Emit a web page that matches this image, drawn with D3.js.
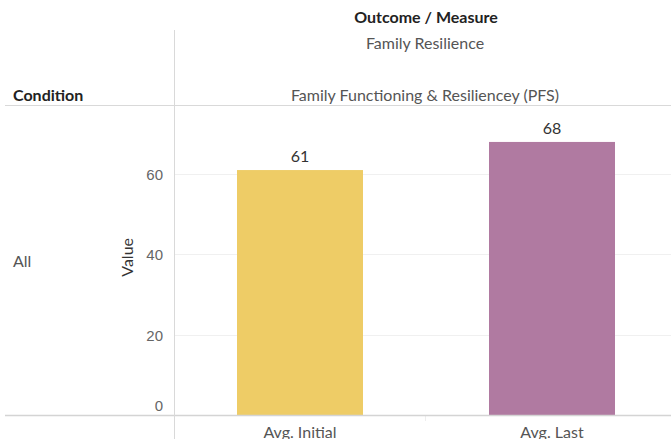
<!DOCTYPE html>
<html>
<head>
<meta charset="utf-8">
<title>Family Resilience</title>
<style>
body { margin: 0; background: #fff; }
svg { display: block; }
.hdr { font-family: Lato, "Open Sans", sans-serif; fill: #555; font-size: 16px; }
.hdr-bold { font-family: Lato, "Open Sans", sans-serif; fill: #222; font-size: 16px; font-weight: 700; }
.tick-lbl { font-family: "Liberation Sans", Arial, sans-serif; font-size: 15px; fill: #666; }
.val { font-family: Lato, "Open Sans", sans-serif; font-size: 16px; fill: #333; }
</style>
</head>
<body>
<div id="vis"></div>
<script src="https://cdn.jsdelivr.net/npm/d3@7"></script>
<script>
// data
var measures = ["Avg. Initial", "Avg. Last"];
var values = [61, 68];
var colors = ["#eecc66", "#b07aa1"];
var yTicks = [0, 20, 40, 60];

var width = 671, height = 439;
var plotLeft = 174, plotRight = 678, plotTop = 105, baseline = 415;

var svg = d3.select("#vis").append("svg")
    .attr("width", width)
    .attr("height", height);

var x = d3.scaleBand()
    .domain(measures)
    .range([plotLeft, plotRight])
    .paddingInner(0.5)
    .paddingOuter(0.25);

var y = d3.scaleLinear()
    .domain([0, 77.2])
    .range([baseline, plotTop]);

// gridlines
svg.selectAll(".grid")
    .data(yTicks.filter(function(d) { return d > 0; }))
    .enter().append("line")
    .attr("x1", plotLeft).attr("x2", width)
    .attr("y1", function(d) { return Math.round(y(d)) + 0.5; })
    .attr("y2", function(d) { return Math.round(y(d)) + 0.5; })
    .attr("stroke", "#f0f0f0");

// bars
svg.selectAll(".bar")
    .data(values)
    .enter().append("rect")
    .attr("x", function(d, i) { return x(measures[i]); })
    .attr("width", x.bandwidth())
    .attr("y", function(d) { return y(d); })
    .attr("height", function(d) { return baseline - y(d); })
    .attr("fill", function(d, i) { return colors[i]; });

// value labels
svg.selectAll(".val")
    .data(values)
    .enter().append("text")
    .attr("class", "val")
    .attr("x", function(d, i) { return x(measures[i]) + x.bandwidth() / 2; })
    .attr("y", function(d) { return y(d) - 8; })
    .attr("text-anchor", "middle")
    .text(function(d) { return d; });

// y axis
var yAxis = d3.axisLeft(y).tickValues(yTicks).tickSize(0).tickPadding(11);
var ga = svg.append("g")
    .attr("transform", "translate(" + plotLeft + ",0)")
    .call(yAxis);
ga.select(".domain").remove();
ga.selectAll("text").attr("class", "tick-lbl").attr("fill", null)
    .attr("font-family", null).attr("font-size", null)
    .attr("dy", function(d) { return d === 0 ? "-0.3em" : "0.36em"; });

// x axis labels
var xAxis = d3.axisBottom(x).tickSize(0).tickPadding(8);
var gx = svg.append("g")
    .attr("transform", "translate(0," + baseline + ")")
    .call(xAxis);
gx.select(".domain").remove();
gx.selectAll("text").attr("class", "hdr").attr("fill", null)
    .attr("font-family", null).attr("font-size", null).attr("dy", "0.95em");

// separator tick between columns
svg.append("line")
    .attr("x1", 425.5).attr("x2", 425.5)
    .attr("y1", baseline).attr("y2", baseline + 6)
    .attr("stroke", "#eee");

// frame lines
svg.append("line")
    .attr("x1", 5).attr("x2", width)
    .attr("y1", plotTop + 0.5).attr("y2", plotTop + 0.5)
    .attr("stroke", "#d9d9d9");
svg.append("line")
    .attr("x1", 5).attr("x2", width)
    .attr("y1", baseline + 0.5).attr("y2", baseline + 0.5)
    .attr("stroke", "#d4d4d4").attr("stroke-width", 1.5);
svg.append("line")
    .attr("x1", plotLeft + 0.5).attr("x2", plotLeft + 0.5)
    .attr("y1", 30).attr("y2", height)
    .attr("stroke", "#d9d9d9");

// headers
svg.append("text").attr("class", "hdr-bold")
    .attr("x", 426).attr("y", 23).attr("text-anchor", "middle")
    .text("Outcome / Measure");
svg.append("text").attr("class", "hdr")
    .attr("x", 425).attr("y", 49).attr("text-anchor", "middle")
    .text("Family Resilience");
svg.append("text").attr("class", "hdr")
    .attr("x", 425).attr("y", 101).attr("text-anchor", "middle")
    .text("Family Functioning & Resiliencey (PFS)");
svg.append("text").attr("class", "hdr-bold")
    .attr("x", 13).attr("y", 101)
    .text("Condition");
svg.append("text").attr("class", "hdr")
    .attr("x", 13).attr("y", 267)
    .text("All");

// y axis title
svg.append("text").attr("class", "hdr")
    .attr("transform", "translate(133," + (y(40) + 3) + ") rotate(-90)")
    .attr("text-anchor", "middle")
    .style("fill", "#333")
    .text("Value");
</script>
</body>
</html>
